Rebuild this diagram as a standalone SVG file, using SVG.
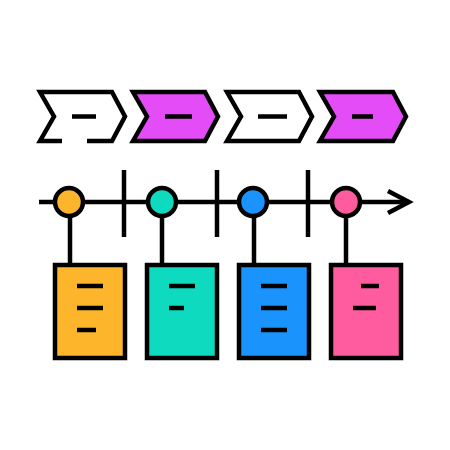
<svg xmlns="http://www.w3.org/2000/svg" width="450" height="450" viewBox="0 0 450 450">
<style>
.s{stroke:#000;stroke-width:4.5;stroke-linejoin:miter}
.w{fill:#fff}
.m{fill:#E34CF6}
.o{fill:#FDB62B}
.t{fill:#0EDAC0}
.b{fill:#1A93FD}
.p{fill:#FF5CA0}
.d{stroke:#000;stroke-width:4.5;fill:none}
</style>
<rect width="450" height="450" fill="#fff"/>
<g id="chevron1">
<path class="s w" d="M62,141 L40,141 L54,116.5 L40,92 L112,92 L125,116.5 L112,141 L87,141"/>
<line class="d" x1="72" y1="116.5" x2="96" y2="116.5"/>
</g>
<g id="chevron2">
<path class="s m" d="M133,92 L205,92 L218,116.5 L205,141 L133,141 L147,116.5 Z"/>
<line class="d" x1="165" y1="116.5" x2="192" y2="116.5"/>
</g>
<g id="chevron3">
<path class="s w" d="M227,92 L299,92 L312,116.5 L299,141 L227,141 L241,116.5 Z"/>
<line class="d" x1="258" y1="116.5" x2="287" y2="116.5"/>
</g>
<g id="chevron4">
<path class="s m" d="M320,92 L393,92 L406,116.5 L393,141 L320,141 L334,116.5 Z"/>
<line class="d" x1="352" y1="116.5" x2="373" y2="116.5"/>
</g>
<g id="connectors">
<line class="d" x1="39" y1="202" x2="409" y2="202"/>
<polyline class="d" points="388,191 409,202 388,213"/>
<line class="d" x1="124" y1="170" x2="124" y2="237"/>
<line class="d" x1="217" y1="170" x2="217" y2="237"/>
<line class="d" x1="308" y1="170" x2="308" y2="237"/>
<line class="d" x1="70" y1="202" x2="70" y2="265"/>
<line class="d" x1="162" y1="202" x2="162" y2="265"/>
<line class="d" x1="254" y1="202" x2="254" y2="265"/>
<line class="d" x1="346" y1="202" x2="346" y2="265"/>
</g>
<g id="dot1"><circle class="s o" cx="69" cy="202" r="14"/></g>
<g id="dot2"><circle class="s t" cx="162" cy="202" r="14"/></g>
<g id="dot3"><circle class="s b" cx="253" cy="202" r="14"/></g>
<g id="dot4"><circle class="s p" cx="346" cy="202" r="14"/></g>
<g id="card1">
<rect class="s o" x="55" y="265" width="70" height="93"/>
<line class="d" x1="77" y1="286" x2="103" y2="286"/>
<line class="d" x1="77" y1="308" x2="103" y2="308"/>
<line class="d" x1="77" y1="330" x2="96" y2="330"/>
</g>
<g id="card2">
<rect class="s t" x="147" y="265" width="70" height="93"/>
<line class="d" x1="169" y1="286" x2="195" y2="286"/>
<line class="d" x1="169" y1="308" x2="184" y2="308"/>
</g>
<g id="card3">
<rect class="s b" x="239" y="265" width="70" height="93"/>
<line class="d" x1="261" y1="286" x2="287" y2="286"/>
<line class="d" x1="261" y1="308" x2="287" y2="308"/>
<line class="d" x1="261" y1="330" x2="287" y2="330"/>
</g>
<g id="card4">
<rect class="s p" x="331" y="265" width="70" height="93"/>
<line class="d" x1="361" y1="286" x2="379" y2="286"/>
<line class="d" x1="353" y1="308" x2="376" y2="308"/>
</g>
</svg>
